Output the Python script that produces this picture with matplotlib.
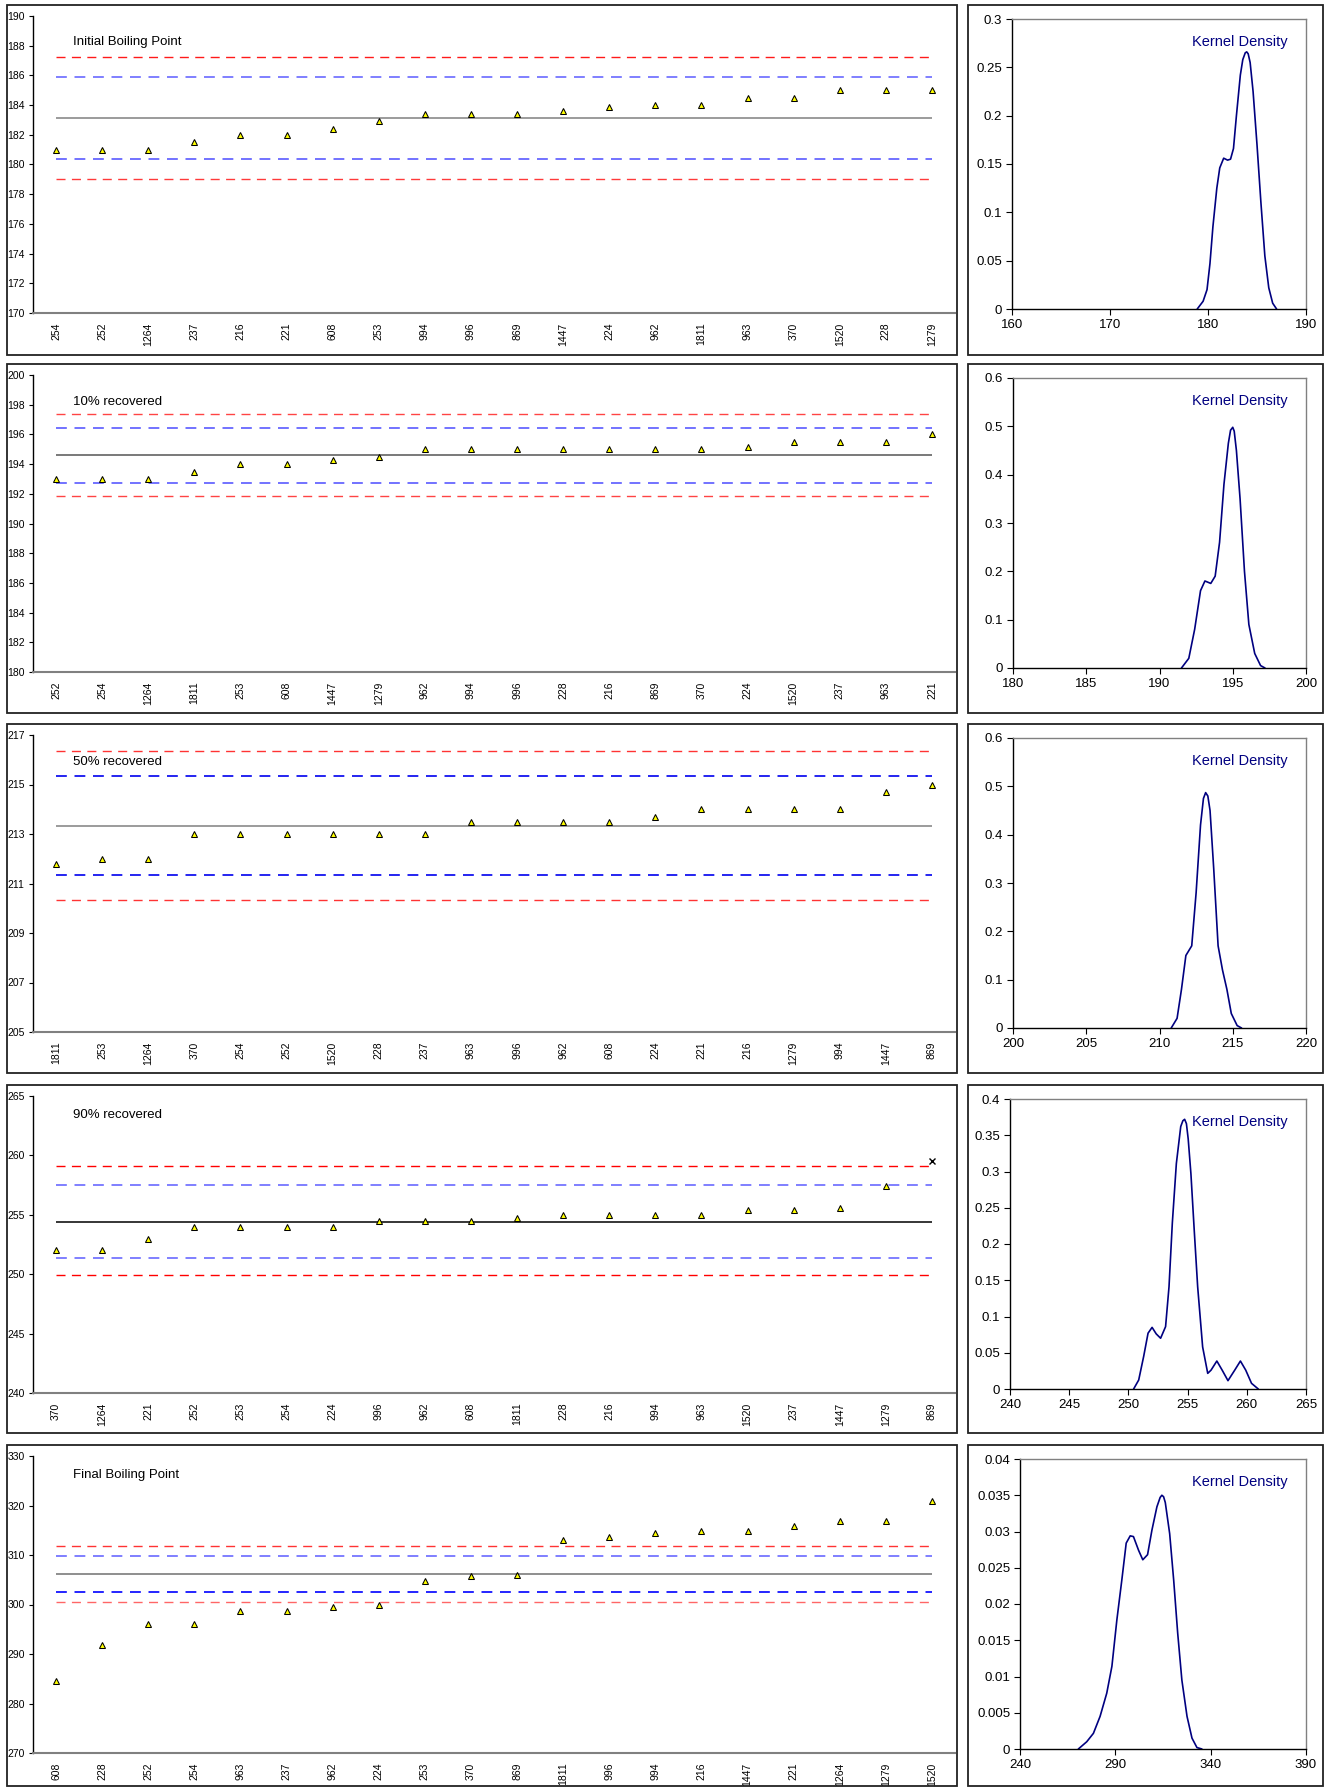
import matplotlib
matplotlib.use('Agg')
import matplotlib.pyplot as plt
from matplotlib.patches import Rectangle

plt.rcParams['font.family'] = ['Liberation Sans', 'DejaVu Sans']

W, H = 1329, 1787

# ---------------- data ----------------
ibp_title = 'Initial Boiling Point'
ibp_labels = ['254', '252', '1264', '237', '216', '221', '608', '253', '994', '996',
              '869', '1447', '224', '962', '1811', '963', '370', '1520', '228', '1279']
ibp_values = [181.0, 181.0, 181.0, 181.5, 182.0, 182.0, 182.4, 182.9, 183.4, 183.4,
              183.4, 183.6, 183.9, 184.0, 184.0, 184.5, 184.5, 185.0, 185.0, 185.0]
ibp_mean = 183.13
ibp_inner = [180.39, 185.89]
ibp_outer = [179.0, 187.26]
ibp_yticks = [170, 172, 174, 176, 178, 180, 182, 184, 186, 188, 190]
ibp_kde_x = [178.9, 179.5, 179.9, 180.2, 180.5, 180.9, 181.2, 181.6, 182.0, 182.3, 182.6,
             182.9, 183.3, 183.55, 183.8, 183.95, 184.1, 184.3, 184.6, 185.0, 185.4, 185.8,
             186.2, 186.6, 187.0]
ibp_kde_y = [0.0, 0.008, 0.02, 0.047, 0.085, 0.125, 0.146, 0.156, 0.154, 0.155, 0.166,
             0.2, 0.242, 0.258, 0.265, 0.266, 0.264, 0.255, 0.225, 0.17, 0.11, 0.055,
             0.022, 0.006, 0.0]
ibp_kde_xticks = [160, 170, 180, 190]
ibp_kde_yticks = [0, 0.05, 0.1, 0.15, 0.2, 0.25, 0.3]

r10_title = '10% recovered'
r10_labels = ['252', '254', '1264', '1811', '253', '608', '1447', '1279', '962', '994',
              '996', '228', '216', '869', '370', '224', '1520', '237', '963', '221']
r10_values = [193.0, 193.0, 193.0, 193.5, 194.0, 194.0, 194.3, 194.5, 195.0, 195.0,
              195.0, 195.0, 195.0, 195.0, 195.05, 195.15, 195.5, 195.5, 195.5, 196.0]
r10_mean = 194.62
r10_inner = [192.74, 196.44]
r10_outer = [191.83, 197.4]
r10_yticks = [180, 182, 184, 186, 188, 190, 192, 194, 196, 198, 200]
r10_kde_x = [191.5, 192.0, 192.4, 192.8, 193.1, 193.5, 193.8, 194.1, 194.4, 194.7, 194.85,
             195.0, 195.1, 195.25, 195.5, 195.8, 196.1, 196.5, 196.9, 197.2]
r10_kde_y = [0.0, 0.02, 0.08, 0.16, 0.18, 0.175, 0.19, 0.26, 0.38, 0.465, 0.492,
             0.498, 0.49, 0.45, 0.35, 0.2, 0.09, 0.03, 0.005, 0.0]
r10_kde_xticks = [180, 185, 190, 195, 200]
r10_kde_yticks = [0, 0.1, 0.2, 0.3, 0.4, 0.5, 0.6]

r50_title = '50% recovered'
r50_labels = ['1811', '253', '1264', '370', '254', '252', '1520', '228', '237', '963',
              '996', '962', '608', '224', '221', '216', '1279', '994', '1447', '869']
r50_values = [211.77, 212.0, 212.0, 213.0, 213.0, 213.0, 213.0, 213.0, 213.0, 213.5,
              213.5, 213.5, 213.5, 213.7, 214.0, 214.0, 214.0, 214.0, 214.7, 215.0]
r50_mean = 213.34
r50_inner = [211.35, 215.33]
r50_outer = [210.34, 216.34]
r50_yticks = [205, 207, 209, 211, 213, 215, 217]
r50_kde_x = [210.8, 211.2, 211.5, 211.8, 212.0, 212.2, 212.5, 212.8, 213.0, 213.15, 213.3,
             213.45, 213.7, 214.0, 214.3, 214.6, 214.9, 215.3, 215.6]
r50_kde_y = [0.0, 0.02, 0.08, 0.15, 0.16, 0.17, 0.28, 0.42, 0.475, 0.487, 0.48,
             0.45, 0.33, 0.17, 0.12, 0.08, 0.03, 0.005, 0.0]
r50_kde_xticks = [200, 205, 210, 215, 220]
r50_kde_yticks = [0, 0.1, 0.2, 0.3, 0.4, 0.5, 0.6]

r90_title = '90% recovered'
r90_labels = ['370', '1264', '221', '252', '253', '254', '224', '996', '962', '608',
              '1811', '228', '216', '994', '963', '1520', '237', '1447', '1279', '869']
r90_values = [252.0, 252.0, 253.0, 254.0, 254.0, 254.0, 254.0, 254.5, 254.5, 254.5,
              254.77, 255.0, 255.0, 255.0, 255.0, 255.4, 255.4, 255.6, 257.4, 259.5]
r90_outliers = ['869']
r90_mean = 254.43
r90_inner = [251.35, 257.52]
r90_outer = [249.92, 259.09]
r90_yticks = [240, 245, 250, 255, 260, 265]
r90_kde_x = [250.44, 250.87, 251.29, 251.66, 252.0, 252.35, 252.72, 253.14, 253.43, 253.71,
             254.05, 254.42, 254.6, 254.75, 254.9, 255.05, 255.28, 255.56, 255.85, 256.27,
             256.7, 256.98, 257.47, 257.92, 258.41, 258.98, 259.46, 259.91, 260.4, 260.97]
r90_kde_y = [0.0, 0.0124, 0.045, 0.077, 0.085, 0.076, 0.07, 0.086, 0.141, 0.229,
             0.311, 0.362, 0.370, 0.372, 0.366, 0.345, 0.297, 0.219, 0.141, 0.058,
             0.0216, 0.026, 0.0386, 0.026, 0.0115, 0.026, 0.0386, 0.026, 0.0078, 0.0]
r90_kde_xticks = [240, 245, 250, 255, 260, 265]
r90_kde_yticks = [0, 0.05, 0.1, 0.15, 0.2, 0.25, 0.3, 0.35, 0.4]

fbp_title = 'Final Boiling Point'
fbp_labels = ['608', '228', '252', '254', '963', '237', '962', '224', '253', '370',
              '869', '1811', '996', '994', '216', '1447', '221', '1264', '1279', '1520']
fbp_values = [284.5, 291.8, 296.0, 296.0, 298.7, 298.7, 299.4, 299.9, 304.8, 305.8,
              306.0, 313.1, 313.7, 314.4, 314.9, 314.9, 315.9, 316.8, 316.8, 320.9]
fbp_mean = 306.26
fbp_inner = [302.5, 309.89]
fbp_outer = [300.55, 311.84]
fbp_yticks = [270, 280, 290, 300, 310, 320, 330]
fbp_kde_x = [270.6, 275.0, 278.5, 282.0, 285.5, 288.2, 290.8, 293.4, 295.7, 297.8, 299.5,
             302.2, 304.4, 306.9, 309.2, 311.8, 313.5, 314.4, 315.3, 316.2, 318.5, 320.6,
             322.7, 324.9, 327.6, 330.2, 332.8, 335.4]
fbp_kde_y = [0.0, 0.001, 0.00216, 0.0045, 0.0077, 0.0114, 0.0178, 0.0233, 0.0284, 0.0294,
             0.0293, 0.0274, 0.0261, 0.0268, 0.0302, 0.0334, 0.0347, 0.035, 0.0348, 0.0340,
             0.0297, 0.0233, 0.016, 0.0095, 0.0045, 0.0015, 0.0002, 0.0]
fbp_kde_xticks = [240, 290, 340, 390]
fbp_kde_yticks = [0, 0.005, 0.01, 0.015, 0.02, 0.025, 0.03, 0.035, 0.04]

panels = [
    dict(title=ibp_title, labels=ibp_labels, values=ibp_values, mean=ibp_mean, inner=ibp_inner,
         outer=ibp_outer, yticks=ibp_yticks, kx=ibp_kde_x, ky=ibp_kde_y,
         kxt=ibp_kde_xticks, kyt=ibp_kde_yticks, outliers=[]),
    dict(title=r10_title, labels=r10_labels, values=r10_values, mean=r10_mean, inner=r10_inner,
         outer=r10_outer, yticks=r10_yticks, kx=r10_kde_x, ky=r10_kde_y,
         kxt=r10_kde_xticks, kyt=r10_kde_yticks, outliers=[]),
    dict(title=r50_title, labels=r50_labels, values=r50_values, mean=r50_mean, inner=r50_inner,
         outer=r50_outer, yticks=r50_yticks, kx=r50_kde_x, ky=r50_kde_y,
         kxt=r50_kde_xticks, kyt=r50_kde_yticks, outliers=[]),
    dict(title=r90_title, labels=r90_labels, values=r90_values, mean=r90_mean, inner=r90_inner,
         outer=r90_outer, yticks=r90_yticks, kx=r90_kde_x, ky=r90_kde_y,
         kxt=r90_kde_xticks, kyt=r90_kde_yticks, outliers=r90_outliers),
    dict(title=fbp_title, labels=fbp_labels, values=fbp_values, mean=fbp_mean, inner=fbp_inner,
         outer=fbp_outer, yticks=fbp_yticks, kx=fbp_kde_x, ky=fbp_kde_y,
         kxt=fbp_kde_xticks, kyt=fbp_kde_yticks, outliers=[]),
]

# ---------------- styles / layout ----------------
row_tops = [5, 364, 724, 1085, 1445]
row_bots = [355, 713, 1073, 1433, 1786]
title_dy = [37, 38, 38, 30, 30]
right_left = [1012, 1013, 1013, 1010, 1020]
mean_colors = ['#808080', '#555555', '#808080', '#000000', '#707070']
# (outer_hi, inner_hi, inner_lo, outer_lo)
band_colors = [
    ['#FF1A1A', '#6A6AFF', '#5A5AFF', '#FF3A3A'],
    ['#FF4444', '#5A5AFF', '#5A5AFF', '#FF4444'],
    ['#FF3333', '#0000EE', '#0000EE', '#FF3333'],
    ['#FF0000', '#6A6AFF', '#6A6AFF', '#FF0000'],
    ['#FF3333', '#6A6AFF', '#0000FF', '#FF6666'],
]
navy = '#000080'

fig = plt.figure(figsize=(W / 100, H / 100), dpi=100)
fig.patch.set_facecolor('white')


def px_axes(x0, y0, x1, y1):
    return fig.add_axes([x0 / W, 1 - y1 / H, (x1 - x0) / W, (y1 - y0) / H])


for r, p in enumerate(panels):
    top = row_tops[r]
    bot = row_bots[r]
    # frames
    for (bx0, bx1) in [(7, 957), (968, 1323)]:
        fig.add_artist(Rectangle((bx0 / W, 1 - bot / H), (bx1 - bx0) / W, (bot - top) / H,
                                 transform=fig.transFigure, fill=False,
                                 edgecolor='#222222', linewidth=1.3))

    # ---- left control chart ----
    ax = px_axes(33, top + 11, 955, top + 308)
    n = len(p['labels'])
    xs = list(range(n))
    lo, hi = p['yticks'][0], p['yticks'][-1]
    ax.set_xlim(-0.5, n - 0.5)
    ax.set_ylim(lo, hi)
    c = band_colors[r]
    dash = (6.5, 4.6)
    ax.hlines(p['outer'][1], 0, n - 1, colors=c[0], linewidth=1.0, linestyles=[(0, dash)])
    ax.hlines(p['inner'][1], 0, n - 1, colors=c[1], linewidth=1.2, linestyles=[(0, dash)])
    ax.hlines(p['inner'][0], 0, n - 1, colors=c[2], linewidth=1.2, linestyles=[(0, dash)])
    ax.hlines(p['outer'][0], 0, n - 1, colors=c[3], linewidth=1.0, linestyles=[(0, dash)])
    ax.hlines(p['mean'], 0, n - 1, colors=mean_colors[r], linewidth=1.1)
    tx = [x for x, l in zip(xs, p['labels']) if l not in p['outliers']]
    ty = [v for v, l in zip(p['values'], p['labels']) if l not in p['outliers']]
    ax.plot(tx, ty, linestyle='none', marker='^', markersize=4.8,
            markerfacecolor='#FFFF00', markeredgecolor='black', markeredgewidth=0.75, zorder=5)
    ox = [x for x, l in zip(xs, p['labels']) if l in p['outliers']]
    oy = [v for v, l in zip(p['values'], p['labels']) if l in p['outliers']]
    if ox:
        ax.plot(ox, oy, linestyle='none', marker='x', markersize=4,
                color='black', markeredgewidth=1.0, zorder=5)
    ax.set_yticks(p['yticks'])
    ax.set_yticklabels([str(t) for t in p['yticks']], fontsize=7.5)
    ax.set_xticks(xs)
    ax.set_xticklabels(p['labels'], rotation=90, fontsize=7.5)
    ax.tick_params(axis='x', length=0, pad=7)
    ax.tick_params(axis='y', length=3, width=0.8, pad=3, direction='out')
    for s in ['top', 'right']:
        ax.spines[s].set_visible(False)
    ax.spines['left'].set_color('black')
    ax.spines['left'].set_linewidth(1.0)
    ax.spines['bottom'].set_color('#808080')
    ax.spines['bottom'].set_linewidth(1.5)
    fig.text(73 / W, 1 - (top + title_dy[r]) / H, p['title'], ha='left', va='center',
             fontsize=9.5, color='black')

    # ---- right kernel density ----
    ak = px_axes(right_left[r], top + 14, 1306, top + 304)
    ak.plot(p['kx'], p['ky'], color=navy, linewidth=1.2,
            solid_joinstyle='round', solid_capstyle='round')
    ak.set_xlim(p['kxt'][0], p['kxt'][-1])
    ak.set_ylim(p['kyt'][0], p['kyt'][-1])
    ak.set_xticks(p['kxt'])
    ak.set_xticklabels(['%g' % t for t in p['kxt']], fontsize=9.5)
    ak.set_yticks(p['kyt'])
    ak.set_yticklabels(['%g' % t for t in p['kyt']], fontsize=9.5)
    ak.tick_params(length=4, width=0.8, pad=3, direction='out')
    for s in ['top', 'right']:
        ak.spines[s].set_color('#808080')
        ak.spines[s].set_linewidth(1.0)
    for s in ['left', 'bottom']:
        ak.spines[s].set_color('black')
        ak.spines[s].set_linewidth(1.0)
    fig.text(1288 / W, 1 - (top + 37) / H, 'Kernel Density', ha='right', va='center',
             fontsize=10.5, color=navy)

fig.savefig('out.png', dpi=100, facecolor='white')
